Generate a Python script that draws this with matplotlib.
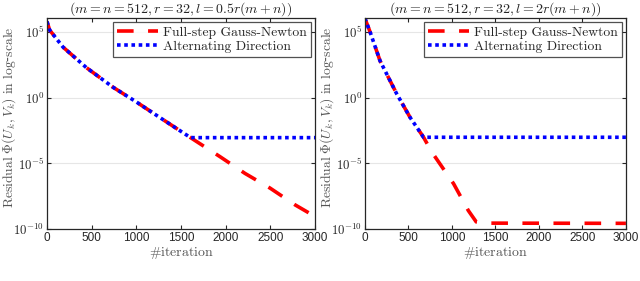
import matplotlib
matplotlib.use("Agg")
import matplotlib.pyplot as plt
from matplotlib.ticker import FixedLocator, FixedFormatter

plt.rcParams['mathtext.fontset'] = 'cm'
plt.rcParams['axes.unicode_minus'] = True

# ---- data ----
titles = [r'$(m=n=512, r=32, l=0.5r(m+n))$', r'$(m=n=512, r=32, l=2r(m+n))$']
series_labels = ['Full-step Gauss-Newton', 'Alternating Direction']

left_fgn_iter = [0, 30, 180, 440, 740, 1000, 1260, 1600, 1935, 2215, 2495, 2775, 3000]
left_fgn_res = [6.0e5, 1.35e5, 6.8e3, 1.9e2, 6.0, 0.46, 3.1e-2, 9.5e-4, 3.2e-5, 1.7e-6, 1.3e-7, 6.9e-9, 8.9e-10]
left_adm_iter = [0, 30, 180, 440, 740, 1000, 1260, 1600, 1630, 3000]
left_adm_res = [6.0e5, 1.35e5, 6.8e3, 1.9e2, 6.0, 0.46, 3.1e-2, 9.5e-4, 8.9e-4, 8.9e-4]

right_fgn_iter = [0, 60, 175, 365, 520, 675, 770, 1020, 1190, 1280, 1400, 3000]
right_fgn_res = [1.1e6, 1.0e5, 6.2e2, 2.0, 3.1e-2, 9.5e-4, 7.1e-5, 2.8e-7, 2.5e-9, 3.5e-10, 2.8e-10, 2.7e-10]
right_adm_iter = [0, 60, 175, 365, 520, 675, 700, 3000]
right_adm_res = [1.1e6, 1.0e5, 6.2e2, 2.0, 3.1e-2, 9.5e-4, 9.5e-4, 9.5e-4]

ytick_vals = [1e-10, 1e-5, 1e0, 1e5]
ytick_labels = [r'$\mathsf{10^{-10}}$', r'$\mathsf{10^{-5}}$', r'$\mathsf{10^{0}}$', r'$\mathsf{10^{5}}$']
xtick_vals = [0, 500, 1000, 1500, 2000, 2500, 3000]

panels = [
    (left_fgn_iter, left_fgn_res, left_adm_iter, left_adm_res),
    (right_fgn_iter, right_fgn_res, right_adm_iter, right_adm_res),
]

fig = plt.figure(figsize=(6.4, 2.81), dpi=100)
positions = [[0.0734, 0.185, 0.419, 0.751], [0.570, 0.185, 0.408, 0.751]]
ylabel_x = [-0.108, -0.110]

txtc = '#555555'
for k, (pos, (fi, fr, ai, ar)) in enumerate(zip(positions, panels)):
    ax = fig.add_axes(pos)
    ax.set_yscale('log')
    ax.plot(fi, fr, color='#ff0000', lw=2.6, linestyle=(0, (4.6, 4.0)),
            label=series_labels[0], dash_capstyle='butt')
    ax.plot(ai, ar, color='#0000ff', lw=2.6, linestyle=(0, (1.0, 1.0)),
            label=series_labels[1], dash_capstyle='butt')
    ax.set_xlim(0, 3000)
    ax.set_ylim(1e-10, 10**6.05)
    ax.yaxis.set_major_locator(FixedLocator(ytick_vals))
    ax.yaxis.set_major_formatter(FixedFormatter(ytick_labels))
    ax.yaxis.set_minor_locator(FixedLocator([]))
    ax.xaxis.set_major_locator(FixedLocator(xtick_vals))
    ax.tick_params(axis='both', which='both', direction='in', top=True, right=True,
                   length=3, width=0.8, color='#262626', labelcolor='#262626', pad=2)
    for lbl in ax.get_xticklabels():
        lbl.set_fontfamily('Liberation Sans')
        lbl.set_fontsize(8.5)
    for lbl in ax.get_yticklabels():
        lbl.set_fontsize(9.2)
    ax.grid(True, axis='y', which='major', color='#e6e6e6', lw=0.8)
    ax.set_axisbelow(True)
    for sp in ax.spines.values():
        sp.set_color('#262626')
        sp.set_linewidth(0.9)
    ax.set_xlabel(r'$\#\mathrm{iteration}$', fontsize=10, color=txtc, labelpad=1)
    ax.set_ylabel(r'$\mathrm{Residual}\ \Phi(U_k,V_k)\ \mathrm{in\ log}$-$\mathrm{scale}$',
                  fontsize=9.8, color=txtc)
    ax.yaxis.set_label_coords(ylabel_x[k], 0.528)
    ax.set_title(titles[k], fontsize=10, color='#262626', pad=3)
    leg = ax.legend(loc='upper right', prop={'family': 'cmr10', 'size': 9.8},
                    frameon=True, fancybox=False, borderaxespad=0.3,
                    handlelength=3.0, handletextpad=0.4, borderpad=0.3,
                    labelspacing=0.15)
    leg.get_frame().set_edgecolor('#262626')
    leg.get_frame().set_linewidth(0.9)
    for t in leg.get_texts():
        t.set_color('#262626')

fig.savefig('out.png', dpi=100)
